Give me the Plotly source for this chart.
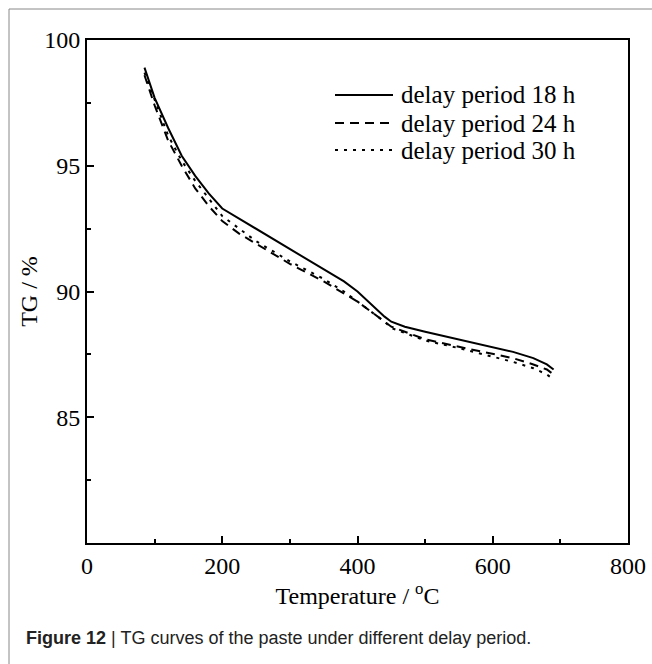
import plotly.graph_objects as go

# ---- data ----
temperature = [85, 100, 120, 140, 160, 180, 200, 225, 250, 300, 350, 380, 400, 420, 440, 450, 470, 500, 550, 600, 630, 660, 680, 690]
tg_18h = [98.9, 97.7, 96.5, 95.4, 94.6, 93.9, 93.3, 92.9, 92.5, 91.7, 90.9, 90.4, 90.0, 89.5, 89.0, 88.8, 88.6, 88.4, 88.1, 87.8, 87.6, 87.35, 87.1, 86.9]
tg_24h = [98.6, 97.4, 96.0, 95.0, 94.1, 93.4, 92.8, 92.3, 91.9, 91.1, 90.4, 89.9, 89.6, 89.2, 88.8, 88.6, 88.4, 88.1, 87.8, 87.5, 87.35, 87.1, 86.9, 86.7]
tg_30h = [98.7, 97.6, 96.2, 95.2, 94.4, 93.7, 93.0, 92.5, 92.0, 91.2, 90.5, 90.0, 89.6, 89.2, 88.8, 88.55, 88.35, 88.05, 87.75, 87.4, 87.2, 86.95, 86.7, 86.5]
series_names = ["delay period 18 h", "delay period 24 h", "delay period 30 h"]
x_tick_vals = [0, 200, 400, 600, 800]
y_tick_vals = [85, 90, 95, 100]
caption_bold = "Figure 12"
caption_text = " | TG curves of the paste under different delay period."

dashes = ["solid", "9px,6px", "3px,6px"]
series = [tg_18h, tg_24h, tg_30h]

fig = go.Figure()
for name, ys, d in zip(series_names, series, dashes):
    fig.add_trace(go.Scatter(x=temperature, y=ys, mode="lines", name=name,
                             line=dict(color="black", width=2, dash=d),
                             showlegend=False))

W, H = 652, 664
L, R, T, B = 87, 24, 40, 121
pw = W - L - R
ph = H - T - B

def px2x(px):
    return (px - L) / pw

def py2y(py):
    return (H - B - py) / ph

# custom legend (line samples + labels)
legend_rows = [95, 123, 150]
for name, d, ry in zip(series_names, dashes, legend_rows):
    fig.add_shape(type="line", xref="paper", yref="paper",
                  x0=px2x(335), x1=px2x(393), y0=py2y(ry), y1=py2y(ry),
                  line=dict(color="black", width=2, dash=d))
    fig.add_annotation(xref="paper", yref="paper", x=px2x(399), y=py2y(ry),
                       text=name, showarrow=False, xanchor="left", yanchor="middle",
                       font=dict(family="Liberation Serif", size=25, color="black"))

# outer figure frame (left and top lines)
fig.add_shape(type="line", xref="paper", yref="paper",
              x0=px2x(9), x1=px2x(9), y0=py2y(9), y1=py2y(H + 5),
              line=dict(color="#888888", width=1))
fig.add_shape(type="line", xref="paper", yref="paper",
              x0=px2x(9), x1=px2x(W + 5), y0=py2y(9), y1=py2y(9),
              line=dict(color="#888888", width=1))

# caption
fig.add_annotation(xref="paper", yref="paper", x=px2x(24), y=py2y(638),
                   text="<b>" + caption_bold + "</b>" + caption_text,
                   showarrow=False, xanchor="left", yanchor="middle",
                   font=dict(family="Liberation Sans", size=18, color="#222222"))

axis_common = dict(showline=True, linecolor="black", linewidth=2, mirror=True,
                   ticks="inside", ticklen=7, tickwidth=1.5, tickcolor="black",
                   showgrid=False, zeroline=False,
                   tickfont=dict(family="Liberation Serif", size=24, color="black"))

fig.update_layout(
    width=W, height=H,
    margin=dict(l=L, r=R, t=T, b=B, autoexpand=False),
    paper_bgcolor="white", plot_bgcolor="white",
    xaxis=dict(range=[0, 800], tickvals=x_tick_vals,
               minor=dict(dtick=100, ticks="inside", ticklen=4, tickcolor="black", tickwidth=1.5),
               title=dict(text="Temperature / <sup>o</sup>C", standoff=6,
                          font=dict(family="Liberation Serif", size=24, color="black")),
               **axis_common),
    yaxis=dict(range=[80, 100], tickvals=y_tick_vals,
               minor=dict(tickvals=[82.5, 87.5, 92.5, 97.5], ticks="inside", ticklen=4, tickcolor="black", tickwidth=1.5),
               title=dict(text="TG / %", standoff=0,
                          font=dict(family="Liberation Serif", size=24, color="black")),
               **axis_common),
)

fig.write_html("out.html", config={"displayModeBar": False},
               post_script="document.body.style.margin='0';document.body.style.overflow='hidden';")
